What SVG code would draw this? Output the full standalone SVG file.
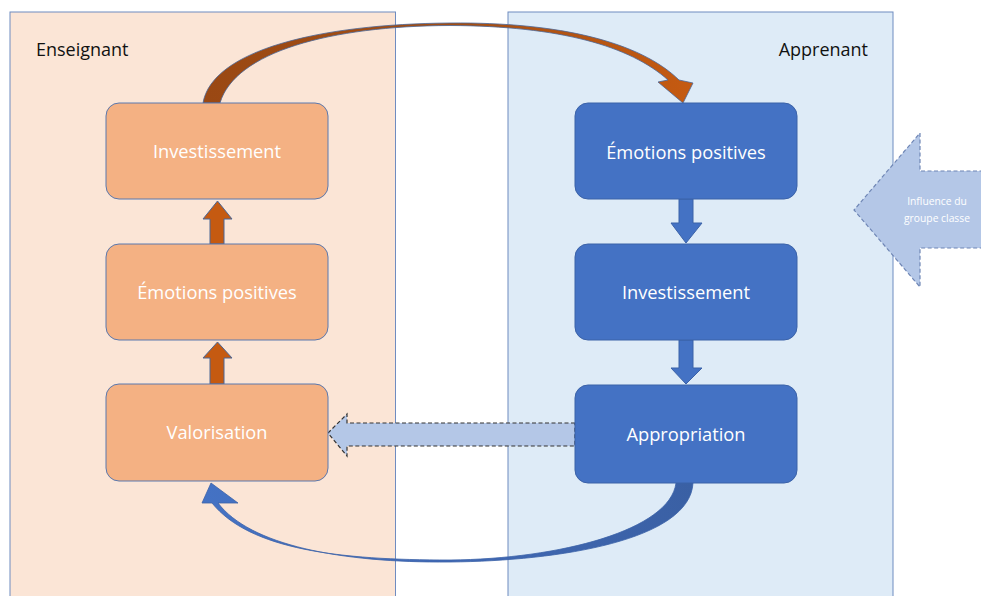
<svg xmlns="http://www.w3.org/2000/svg" width="981" height="596" viewBox="0 0 981 596">
<defs>
<style>
.panel{stroke:#6F8CC0;stroke-width:1}
.lbox{fill:#F4B183;stroke:#5A78AE;stroke-width:1}
.rbox{fill:#4472C4;stroke:#3B62A8;stroke-width:1}
.btxt{font-family:"Open Sans","Liberation Sans",sans-serif;font-size:18.3px;fill:#FFFFFF;text-anchor:middle}
.htxt{font-family:"Open Sans","Liberation Sans",sans-serif;font-size:18px;fill:#111111}
.up{fill:#C55A11;stroke:#4A6697;stroke-width:1}
.down{fill:#4472C4;stroke:#3B62A8;stroke-width:1}
.dash{fill:#B4C7E7;stroke-dasharray:4,2.5;stroke-width:1.2}
</style>
<linearGradient id="gTop" x1="0" y1="0" x2="1" y2="0">
<stop offset="0" stop-color="#9A4813"/>
<stop offset="0.5" stop-color="#A24E14"/>
<stop offset="1" stop-color="#C55A11"/>
</linearGradient>
<linearGradient id="gBot" x1="0" y1="0" x2="1" y2="0">
<stop offset="0" stop-color="#4472C4"/>
<stop offset="0.5" stop-color="#4169B5"/>
<stop offset="1" stop-color="#3A60A4"/>
</linearGradient>
</defs>
<rect width="981" height="596" fill="#FFFFFF"/>
<g id="panel-enseignant">
<rect class="panel" x="10" y="12" width="385.5" height="590" fill="#FBE5D6"/>
<text class="htxt" x="36" y="56">Enseignant</text>
</g>
<g id="panel-apprenant">
<rect class="panel" x="508" y="12" width="385" height="590" fill="#DEEBF7"/>
<text class="htxt" x="868" y="56" text-anchor="end">Apprenant</text>
</g>
<g id="connectors">
<path d="M203,103 C212,50 320,24 450,23 C560,22 640,42 679,80 L693,83 L683,103 L658,82 L668,80 C630,46 560,26 450,25.5 C330,26 235,52 220,103 Z" fill="url(#gTop)" stroke="#4A6697" stroke-width="0.8"/>
<path d="M693,483 C690,540 560,561 450,562 C340,563 250,545 218,503 L238,503 L211,483 L202,503 L212,503 C250,550 340,560 450,560 C560,559 670,530 676,483 Z" fill="url(#gBot)" stroke="#3B62A8" stroke-width="0.8"/>
<path class="up" d="M210,244 L210,219 L203,219 L217.5,201 L232,219 L224,219 L224,244 Z"/>
<path class="up" d="M210,384 L210,358 L203,358 L217.5,342 L232,358 L224,358 L224,384 Z"/>
<path class="down" d="M679,199 L693,199 L693,223 L702,223 L686,243 L671,223 L679,223 Z"/>
<path class="down" d="M679,340 L693,340 L693,368 L702,368 L686,384 L671,368 L679,368 Z"/>
<path class="dash" d="M575,423 L347,423 L347,414 L328,433 L347,456 L347,446 L575,446 Z" stroke="#333333"/>
</g>
<g id="influence">
<path class="dash" d="M990,171 L920,171 L920,133 L854,210 L920,287 L920,248 L990,248" stroke="#6F86B5"/>
<text font-family="'Open Sans','Liberation Sans',sans-serif" font-size="10.3" fill="#FFFFFF" text-anchor="middle"><tspan x="937" y="205">Influence du</tspan><tspan x="937" y="222">groupe classe</tspan></text>
</g>
<g id="node-l-invest">
<rect class="lbox" x="106" y="103" width="222" height="96" rx="13"/>
<text class="btxt" x="217" y="158">Investissement</text>
</g>
<g id="node-l-emotions">
<rect class="lbox" x="106" y="244" width="222" height="96" rx="13"/>
<text class="btxt" x="217" y="299">Émotions positives</text>
</g>
<g id="node-l-valor">
<rect class="lbox" x="106" y="384" width="222" height="97" rx="13"/>
<text class="btxt" x="217" y="439">Valorisation</text>
</g>
<g id="node-r-emotions">
<rect class="rbox" x="575" y="103" width="222" height="96" rx="13"/>
<text class="btxt" x="686" y="159">Émotions positives</text>
</g>
<g id="node-r-invest">
<rect class="rbox" x="575" y="244" width="222" height="96" rx="13"/>
<text class="btxt" x="686" y="299">Investissement</text>
</g>
<g id="node-r-approp">
<rect class="rbox" x="575" y="385" width="222" height="98" rx="13"/>
<text class="btxt" x="686" y="441">Appropriation</text>
</g>
</svg>
